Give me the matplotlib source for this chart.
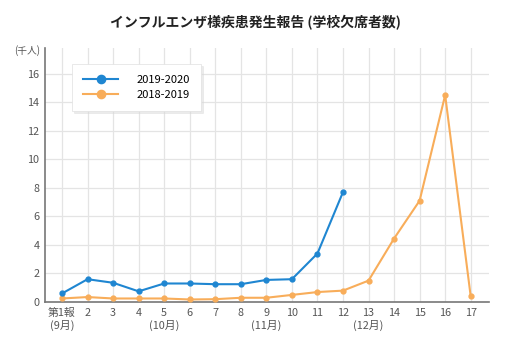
import numpy as np
import matplotlib.pyplot as plt

plt.rcParams['font.family'] = ['Noto Sans CJK JP', 'DejaVu Sans']

# 報告回 (第1報 = 9月)
reports = np.arange(1, 18)
x_labels = ['第1報\n(9月)', '2', '3', '4', '5\n(10月)', '6', '7', '8', '9\n(11月)',
            '10', '11', '12', '13\n(12月)', '14', '15', '16', '17']

# 学校欠席者数 (千人)
s2019_2020 = [0.6, 1.6, 1.35, 0.75, 1.3, 1.3, 1.25, 1.25, 1.55, 1.6, 3.4, 7.7]
s2018_2019 = [0.25, 0.35, 0.25, 0.25, 0.25, 0.18, 0.2, 0.3, 0.3, 0.5, 0.7, 0.8,
              1.5, 4.45, 7.1, 14.5, 0.4]

blue = '#1f86d1'
orange = '#f8ad5a'

fig = plt.figure(figsize=(5.1, 3.5), dpi=100, facecolor='white')
ax = fig.add_axes([0.088, 0.137, 0.87, 0.726])

ax.plot(reports[:len(s2018_2019)], s2018_2019, 'o-', color=orange, lw=1.5, ms=3.5,
        label='2018-2019', zorder=3)
ax.plot(reports[:len(s2019_2020)], s2019_2020, 'o-', color=blue, lw=1.5, ms=3.5,
        label='2019-2020', zorder=4)

ax.set_xlim(0.33, 17.7)
ax.set_ylim(0, 17.8)
ax.set_yticks(np.arange(0, 17, 2))
ax.set_xticks(reports)
ax.set_xticklabels(x_labels, va='top', linespacing=1.3)
ax.tick_params(axis='both', length=0, labelsize=7.8, colors='#555555', pad=4)
ax.grid(True, color='#e4e4e4', lw=0.9)
ax.set_axisbelow(True)
for s in ['top', 'right']:
    ax.spines[s].set_visible(False)
for s in ['left', 'bottom']:
    ax.spines[s].set_color('#777777')
    ax.spines[s].set_linewidth(1.2)

fig.text(0.078, 0.855, '(千人)', fontsize=7, color='#555555', ha='right', va='center')
fig.text(0.5, 0.935, 'インフルエンザ様疾患発生報告 (学校欠席者数)', fontsize=10,
         fontweight='bold', ha='center', va='center', color='#222222')

h, l = ax.get_legend_handles_labels()
leg = ax.legend(h[::-1], l[::-1], loc='upper left', bbox_to_anchor=(0.048, 0.96),
                fontsize=8, frameon=True, fancybox=False,
                shadow={'color': '#d8d8d8', 'ox': 1.5, 'oy': -1.5},
                handlelength=3.2, handletextpad=1.6, borderpad=1.0, labelspacing=0.45,
                markerscale=1.7)
leg.get_frame().set_edgecolor('#e0e0e0')
leg.get_frame().set_linewidth(0.5)

plt.savefig('out.png', dpi=100, facecolor='white')
